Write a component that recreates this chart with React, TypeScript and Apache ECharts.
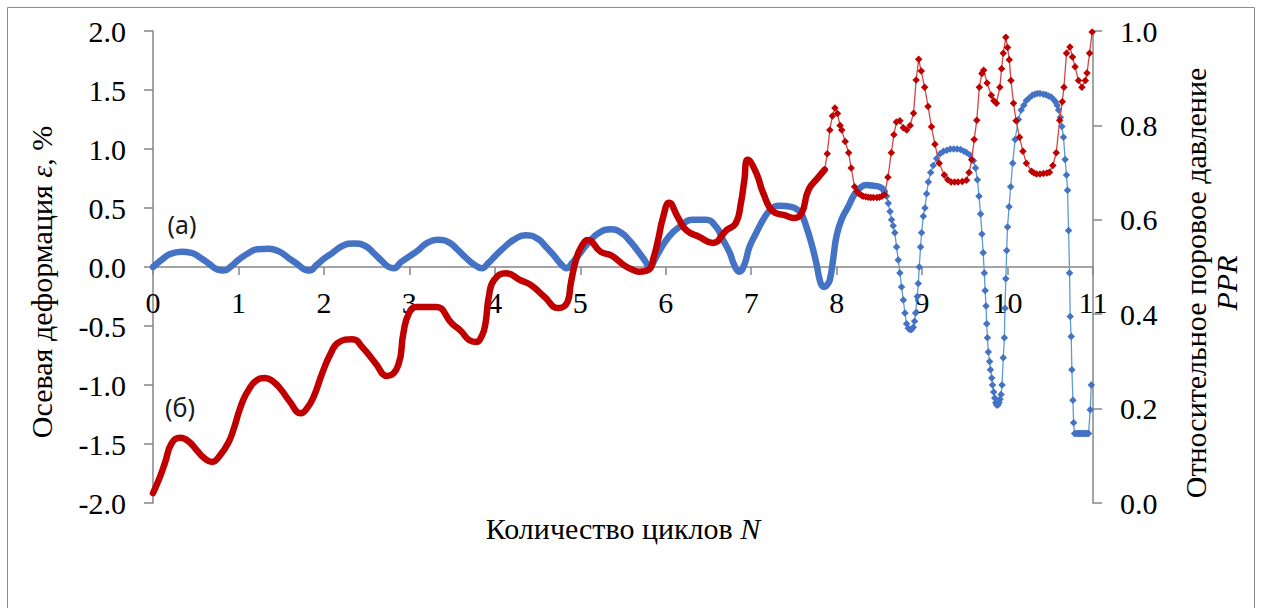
import React, { useEffect, useRef } from "react";
import * as echarts from "echarts";

// ---- Data ----
// Axial strain ε, % (left axis) — dense part (thick band)
const strainDense: number[][] = [
  [0, 0], [0.1, 0.06], [0.2, 0.11], [0.33, 0.13], [0.45, 0.12], [0.55, 0.08], [0.65, 0.03], [0.75, -0.02], [0.83, -0.03], [0.92, 0.01],
  [1.0, 0.06], [1.1, 0.11], [1.22, 0.15], [1.35, 0.155], [1.48, 0.13], [1.58, 0.08], [1.68, 0.03], [1.77, -0.02], [1.83, -0.03], [1.92, 0.02],
  [2.0, 0.07], [2.1, 0.12], [2.22, 0.18], [2.35, 0.2], [2.48, 0.18], [2.58, 0.12], [2.68, 0.05], [2.76, 0.0], [2.82, -0.01], [2.9, 0.04],
  [3.0, 0.09], [3.1, 0.14], [3.2, 0.2], [3.33, 0.23], [3.46, 0.21], [3.56, 0.15], [3.66, 0.08], [3.76, 0.02], [3.85, -0.01], [3.92, 0.03],
  [4.0, 0.09], [4.1, 0.16], [4.22, 0.23], [4.36, 0.27], [4.5, 0.24], [4.6, 0.17], [4.7, 0.09], [4.78, 0.02], [4.84, -0.01], [4.9, 0.03],
  [5.0, 0.12], [5.1, 0.21], [5.22, 0.29], [5.36, 0.32], [5.48, 0.29], [5.58, 0.22], [5.68, 0.13], [5.76, 0.05], [5.81, 0.0], [5.87, 0.06],
  [5.93, 0.14], [6.04, 0.26], [6.16, 0.34], [6.32, 0.4], [6.47, 0.4], [6.59, 0.34], [6.67, 0.23], [6.75, 0.12], [6.8, 0.02], [6.86, -0.04],
  [6.92, 0.02], [6.98, 0.17], [7.06, 0.29], [7.14, 0.4], [7.22, 0.48], [7.33, 0.52], [7.47, 0.51], [7.55, 0.48], [7.585, 0.455], [7.646, 0.34],
  [7.705, 0.2], [7.763, 0.03], [7.802, -0.11], [7.83, -0.16], [7.86, -0.17], [7.89, -0.15], [7.92, -0.11], [7.958, 0.06], [7.998, 0.26], [8.056, 0.4],
  [8.135, 0.51], [8.212, 0.62], [8.29, 0.68], [8.35, 0.695], [8.408, 0.69], [8.47, 0.685], [8.525, 0.67], [8.56, 0.64],
];

// Axial strain ε, % — later cycles where single markers are visible
const strainSparse: number[][] = [
  [8.56, 0.64], [8.584, 0.6], [8.604, 0.54], [8.625, 0.47], [8.643, 0.4], [8.662, 0.35], [8.681, 0.29], [8.701, 0.17],
  [8.721, 0.06], [8.74, -0.05], [8.76, -0.17], [8.78, -0.28], [8.799, -0.39], [8.818, -0.48], [8.838, -0.52], [8.857, -0.53], [8.877, -0.53], [8.897, -0.51],
  [8.912, -0.46], [8.924, -0.39], [8.944, -0.25], [8.955, -0.14], [8.967, 0.0], [8.982, 0.17], [8.994, 0.29], [9.014, 0.43], [9.033, 0.5], [9.053, 0.62],
  [9.073, 0.72], [9.1, 0.8], [9.13, 0.86], [9.17, 0.92], [9.21, 0.96], [9.25, 0.98], [9.29, 0.99], [9.33, 1.0], [9.37, 1.0], [9.41, 1.0],
  [9.45, 0.995], [9.49, 0.98], [9.52, 0.97], [9.56, 0.95], [9.6, 0.9], [9.625, 0.84], [9.647, 0.74], [9.666, 0.6], [9.685, 0.45], [9.7, 0.28],
  [9.715, 0.12], [9.728, -0.05], [9.738, -0.2], [9.748, -0.33], [9.756, -0.48], [9.765, -0.6], [9.775, -0.72], [9.79, -0.8], [9.8, -0.87], [9.815, -0.94],
  [9.825, -1.0], [9.838, -1.06], [9.85, -1.11], [9.862, -1.15], [9.873, -1.17], [9.887, -1.17], [9.9, -1.15], [9.912, -1.12], [9.924, -1.08], [9.935, -1.0],
  [9.95, -0.77], [9.963, -0.6], [9.97, -0.35], [9.98, -0.1], [9.99, 0.14], [10.0, 0.34], [10.018, 0.51], [10.037, 0.68], [10.06, 0.88], [10.088, 1.08],
  [10.127, 1.25], [10.16, 1.33], [10.19, 1.37], [10.22, 1.41], [10.25, 1.43], [10.29, 1.455], [10.32, 1.465], [10.35, 1.47], [10.38, 1.47], [10.42, 1.465],
  [10.45, 1.46], [10.48, 1.45], [10.51, 1.44], [10.54, 1.42], [10.56, 1.4], [10.58, 1.37], [10.597, 1.33], [10.618, 1.27], [10.636, 1.19], [10.655, 1.1],
  [10.674, 0.91], [10.69, 0.78], [10.702, 0.65], [10.714, 0.31], [10.726, -0.05], [10.733, -0.42], [10.745, -0.59], [10.753, -0.87], [10.765, -1.13], [10.773, -1.32],
  [10.784, -1.41], [10.8, -1.41], [10.815, -1.41], [10.83, -1.41], [10.845, -1.41], [10.86, -1.41], [10.875, -1.41], [10.89, -1.41], [10.905, -1.41], [10.92, -1.41],
  [10.935, -1.41], [10.948, -1.41], [10.968, -1.21], [10.98, -1.0],
];

// Relative pore pressure PPR (right axis) — dense part (thick band)
const pprDense: number[][] = [
  [0, 0.021], [0.07, 0.05], [0.14, 0.085], [0.22, 0.127], [0.32, 0.138], [0.42, 0.13], [0.52, 0.11], [0.6, 0.095], [0.69, 0.087], [0.78, 0.1],
  [0.88, 0.127], [0.95, 0.16], [1.0, 0.19], [1.06, 0.22], [1.12, 0.24], [1.2, 0.258], [1.31, 0.265], [1.4, 0.258], [1.5, 0.24], [1.6, 0.215],
  [1.73, 0.19], [1.8, 0.2], [1.88, 0.225], [1.98, 0.275], [2.08, 0.317], [2.17, 0.34], [2.33, 0.347], [2.46, 0.328], [2.6, 0.297], [2.74, 0.269],
  [2.87, 0.292], [2.93, 0.36], [2.99, 0.4], [3.08, 0.415], [3.31, 0.415], [3.5, 0.38], [3.6, 0.365], [3.7, 0.345], [3.78, 0.341], [3.85, 0.355],
  [3.89, 0.38], [3.93, 0.437], [3.99, 0.472], [4.13, 0.487], [4.3, 0.472], [4.42, 0.462], [4.58, 0.437], [4.74, 0.413], [4.85, 0.426], [4.89, 0.466],
  [4.95, 0.515], [5.01, 0.542], [5.09, 0.557], [5.24, 0.532], [5.36, 0.525], [5.51, 0.504], [5.6, 0.495], [5.69, 0.49], [5.8, 0.494], [5.86, 0.521],
  [5.91, 0.557], [5.97, 0.606], [6.04, 0.636], [6.14, 0.606], [6.24, 0.578], [6.39, 0.564], [6.55, 0.551], [6.71, 0.578], [6.82, 0.593], [6.88, 0.636],
  [6.92, 0.684], [6.96, 0.727], [7.06, 0.699], [7.14, 0.657], [7.26, 0.617], [7.39, 0.61], [7.5, 0.604], [7.59, 0.614], [7.67, 0.663], [7.79, 0.691],
  [7.86, 0.706],
];

// Relative pore pressure PPR — later cycles where single markers are visible
const pprSparse: number[][] = [
  [7.86, 0.706], [7.89, 0.74], [7.92, 0.79], [7.95, 0.82], [7.98, 0.837], [8.01, 0.825], [8.04, 0.8], [8.06, 0.79], [8.1, 0.766],
  [8.14, 0.742], [8.17, 0.71], [8.21, 0.67], [8.24, 0.66], [8.26, 0.655], [8.29, 0.652], [8.31, 0.65], [8.34, 0.649], [8.37, 0.648], [8.4, 0.647],
  [8.43, 0.647], [8.47, 0.647], [8.5, 0.648], [8.53, 0.65], [8.56, 0.653], [8.6, 0.69],
  [8.64, 0.742], [8.67, 0.78], [8.7, 0.807], [8.74, 0.81], [8.78, 0.795], [8.82, 0.79], [8.86, 0.8], [8.9, 0.826], [8.93, 0.896], [8.96, 0.94],
  [8.99, 0.915], [9.03, 0.881], [9.07, 0.84], [9.11, 0.797], [9.15, 0.76], [9.2, 0.72], [9.26, 0.695], [9.3, 0.685], [9.34, 0.68], [9.38, 0.68],
  [9.42, 0.68], [9.47, 0.681], [9.52, 0.684], [9.55, 0.7], [9.58, 0.727], [9.61, 0.77], [9.64, 0.811], [9.67, 0.881], [9.7, 0.91], [9.72, 0.917],
  [9.76, 0.89], [9.81, 0.864], [9.84, 0.852], [9.87, 0.847], [9.91, 0.881], [9.93, 0.92], [9.95, 0.953], [9.98, 0.987], [10.0, 0.965], [10.02, 0.939],
  [10.04, 0.895], [10.07, 0.847], [10.1, 0.81], [10.14, 0.775], [10.18, 0.745], [10.22, 0.72], [10.28, 0.703], [10.31, 0.699], [10.34, 0.697], [10.38, 0.697],
  [10.42, 0.698], [10.46, 0.699], [10.49, 0.701], [10.53, 0.715], [10.57, 0.742], [10.61, 0.811], [10.64, 0.85], [10.66, 0.881], [10.69, 0.953], [10.73, 0.966],
  [10.76, 0.945], [10.79, 0.924], [10.83, 0.895], [10.87, 0.881], [10.91, 0.895], [10.93, 0.911], [10.96, 0.953], [10.99, 0.998],
];

const xTickLabelsInterval = 1;
const strainAxisRange = [-2, 2];
const pprAxisRange = [0, 1];

const axisTitleX = "Количество циклов ";
const axisTitleXItalic = "N";
const axisTitleLeft = "Осевая деформация ";
const axisTitleLeftItalic = "ε";
const axisTitleLeftTail = ", %";
const axisTitleRightLine1 = "Относительное поровое давление";
const axisTitleRightLine2 = "PPR";
const labelA = "(а)";
const labelB = "(б)";

const SERIF = "'Liberation Serif', 'Times New Roman', serif";
const AXIS_COLOR = "#868686";
const BLUE = "#4472c4";
const BLUE_LINE = "#5b9bd5";
const RED = "#c00000";
const RED_LINE = "#d24545";

const GRID_TOP = 31;
const GRID_HEIGHT = 472;

export default function App() {
  const ref = useRef<HTMLDivElement>(null);

  useEffect(() => {
    if (!ref.current) return;
    const chart = echarts.init(ref.current, undefined, { renderer: "svg" });

    const tickLabel = { fontFamily: SERIF, fontSize: 30, color: "#000" };
    const axisLineStyle = { color: AXIS_COLOR, width: 1.5 };

    const option: any = {
      animation: false,
      backgroundColor: "#ffffff",
      grid: { left: 153, top: GRID_TOP, width: 940, height: GRID_HEIGHT, containLabel: false },
      xAxis: {
        type: "value",
        position: "bottom",
        min: 0,
        max: 11,
        interval: xTickLabelsInterval,
        // strain axis is symmetric (-2..2): its zero sits half-way up the grid
        offset: -GRID_HEIGHT / 2,
        axisLine: { show: true, onZero: false, lineStyle: axisLineStyle },
        axisTick: { show: true, length: 8, inside: false, lineStyle: axisLineStyle },
        axisLabel: { ...tickLabel, margin: 20 },
        splitLine: { show: false },
      },
      yAxis: [
        {
          type: "value",
          position: "left",
          min: strainAxisRange[0],
          max: strainAxisRange[1],
          interval: 0.5,
          axisLine: { show: true, onZero: false, lineStyle: axisLineStyle },
          axisTick: { show: true, length: 9, inside: false, lineStyle: axisLineStyle },
          axisLabel: { ...tickLabel, margin: 27, formatter: (v: number) => v.toFixed(1) },
          splitLine: { show: false },
        },
        {
          type: "value",
          position: "right",
          min: pprAxisRange[0],
          max: pprAxisRange[1],
          interval: 0.2,
          axisLine: { show: true, onZero: false, lineStyle: axisLineStyle },
          axisTick: { show: true, length: 9, inside: false, lineStyle: axisLineStyle },
          axisLabel: { ...tickLabel, margin: 27, formatter: (v: number) => v.toFixed(1) },
          splitLine: { show: false },
        },
      ],
      series: [
        {
          type: "line",
          name: "strainDense",
          yAxisIndex: 0,
          data: strainDense,
          smooth: 0.5,
          symbol: "none",
          lineStyle: { color: BLUE, width: 6.5, cap: "round", join: "round" },
          itemStyle: { color: BLUE },
          z: 2,
        },
        {
          type: "line",
          name: "strainSparse",
          yAxisIndex: 0,
          data: strainSparse,
          symbol: "diamond",
          symbolSize: 7.5,
          showSymbol: true,
          lineStyle: { color: BLUE_LINE, width: 1.3 },
          itemStyle: { color: BLUE },
          z: 3,
        },
        {
          type: "line",
          name: "pprDense",
          yAxisIndex: 1,
          data: pprDense,
          smooth: 0.5,
          symbol: "none",
          lineStyle: { color: RED, width: 6.5, cap: "round", join: "round" },
          itemStyle: { color: RED },
          z: 4,
        },
        {
          type: "line",
          name: "pprSparse",
          yAxisIndex: 1,
          data: pprSparse,
          symbol: "diamond",
          symbolSize: 7.5,
          showSymbol: true,
          lineStyle: { color: RED_LINE, width: 1.3 },
          itemStyle: { color: RED },
          z: 5,
        },
      ],
      graphic: [
        {
          type: "rect",
          silent: true,
          z: -10,
          shape: { x: 7.5, y: 7.5, width: 1247, height: 640 },
          style: { fill: "none", stroke: "#8c8c8c", lineWidth: 1 },
        },
        {
          type: "text",
          x: 623,
          y: 528,
          style: {
            text: `{r|${axisTitleX}}{i|${axisTitleXItalic}}`,
            align: "center",
            verticalAlign: "middle",
            rich: {
              r: { fontFamily: SERIF, fontSize: 30, fill: "#000" },
              i: { fontFamily: SERIF, fontSize: 30, fontStyle: "italic", fill: "#000" },
            },
          },
        },
        {
          type: "text",
          x: 41,
          y: 282,
          rotation: Math.PI / 2,
          style: {
            text: `{r|${axisTitleLeft}}{i|${axisTitleLeftItalic}}{r|${axisTitleLeftTail}}`,
            align: "center",
            verticalAlign: "middle",
            rich: {
              r: { fontFamily: SERIF, fontSize: 30, fill: "#000" },
              i: { fontFamily: SERIF, fontSize: 30, fontStyle: "italic", fill: "#000" },
            },
          },
        },
        {
          type: "text",
          x: 1211,
          y: 283,
          rotation: Math.PI / 2,
          style: {
            text: `{r|${axisTitleRightLine1}}\n{i|${axisTitleRightLine2}}`,
            align: "center",
            verticalAlign: "middle",
            rich: {
              r: { fontFamily: SERIF, fontSize: 30, lineHeight: 31, fill: "#000", align: "center" },
              i: { fontFamily: SERIF, fontSize: 30, lineHeight: 31, fontStyle: "italic", fill: "#000", align: "center" },
            },
          },
        },
        {
          type: "text",
          x: 182,
          y: 224,
          style: {
            text: labelA,
            align: "center",
            verticalAlign: "middle",
            fontFamily: "'Noto Sans', sans-serif",
            fontSize: 25,
            fill: "#1a1a1a",
          },
        },
        {
          type: "text",
          x: 180,
          y: 407,
          style: {
            text: labelB,
            align: "center",
            verticalAlign: "middle",
            fontFamily: "'Noto Sans', sans-serif",
            fontSize: 25,
            fill: "#1a1a1a",
          },
        },
      ],
    };

    chart.setOption(option);
    return () => chart.dispose();
  }, []);

  return (
    <div
      ref={ref}
      style={{ position: "fixed", left: 0, top: 0, width: 1262, height: 608, background: "#fff" }}
    />
  );
}
